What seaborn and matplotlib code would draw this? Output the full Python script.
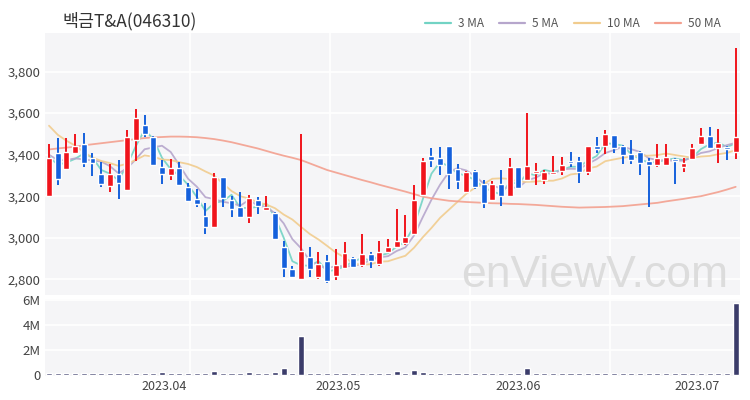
import numpy as np
import pandas as pd
import matplotlib
matplotlib.use("Agg")
import matplotlib.pyplot as plt
import seaborn as sns
from matplotlib.lines import Line2D

# ---- data ----
title = "백금T&A(046310)"

open_ = [3200, 3410, 3330, 3410, 3450, 3385, 3305, 3250, 3305, 3230,
         3470, 3545, 3485, 3340, 3300, 3335, 3245, 3185, 3105, 3050,
         3290, 3180, 3150, 3100, 3180, 3135, 3120, 2955, 2850, 2800,
         2905, 2810, 2890, 2815, 2855, 2900, 2870, 2920, 2875, 2930,
         2955, 2975, 3020, 3205, 3395, 3385, 3440, 3330, 3220, 3320,
         3260, 3180, 3260, 3200, 3340, 3280, 3310, 3280, 3305, 3320,
         3370, 3370, 3315, 3440, 3440, 3495, 3440, 3405, 3415, 3370,
         3350, 3350, 3380, 3340, 3380, 3450, 3490, 3430, 3435, 3415]
high = [3450, 3480, 3480, 3500, 3505, 3410, 3365, 3355, 3375, 3520,
        3620, 3590, 3490, 3375, 3380, 3365, 3265, 3235, 3165, 3310,
        3290, 3200, 3220, 3205, 3195, 3200, 3125, 2985, 2865, 3500,
        2955, 2930, 2915, 2945, 2980, 2905, 3020, 2930, 2985, 2995,
        3140, 3110, 3255, 3385, 3430, 3435, 3440, 3355, 3320, 3325,
        3280, 3275, 3325, 3385, 3340, 3600, 3360, 3325, 3395, 3390,
        3415, 3390, 3440, 3485, 3520, 3495, 3445, 3470, 3420, 3385,
        3450, 3450, 3385, 3385, 3450, 3530, 3535, 3525, 3440, 3915]
low = [3200, 3255, 3325, 3410, 3340, 3295, 3245, 3220, 3185, 3230,
       3370, 3485, 3345, 3260, 3280, 3250, 3170, 3150, 3020, 3050,
       3150, 3100, 3100, 3070, 3115, 3130, 2990, 2810, 2805, 2800,
       2810, 2800, 2780, 2795, 2855, 2855, 2860, 2855, 2865, 2925,
       2950, 2965, 3015, 3200, 3340, 3300, 3235, 3235, 3215, 3235,
       3145, 3175, 3155, 3195, 3235, 3275, 3255, 3260, 3305, 3300,
       3340, 3265, 3300, 3410, 3405, 3410, 3355, 3355, 3300, 3150,
       3340, 3345, 3260, 3315, 3375, 3445, 3425, 3360, 3375, 3380]
close = [3385, 3285, 3415, 3440, 3360, 3360, 3260, 3305, 3265, 3485,
         3575, 3500, 3350, 3305, 3335, 3255, 3175, 3160, 3050, 3290,
         3190, 3140, 3100, 3190, 3155, 3150, 2995, 2855, 2810, 2935,
         2850, 2875, 2790, 2870, 2925, 2860, 2920, 2890, 2930, 2955,
         2985, 3005, 3180, 3370, 3375, 3350, 3305, 3275, 3315, 3245,
         3165, 3260, 3200, 3340, 3240, 3345, 3320, 3315, 3315, 3350,
         3360, 3315, 3440, 3425, 3500, 3430, 3400, 3375, 3360, 3350,
         3385, 3390, 3370, 3360, 3430, 3490, 3430, 3455, 3425, 3485]
# volume in millions of shares
volume_m = [0.15, 0.15, 0.16, 0.15, 0.16, 0.15, 0.15, 0.16, 0.17, 0.22,
            0.22, 0.18, 0.18, 0.25, 0.17, 0.17, 0.16, 0.16, 0.18, 0.36,
            0.18, 0.16, 0.17, 0.27, 0.17, 0.16, 0.24, 0.55, 0.18, 3.10,
            0.22, 0.21, 0.21, 0.18, 0.15, 0.16, 0.15, 0.16, 0.15, 0.17,
            0.31, 0.19, 0.45, 0.27, 0.22, 0.18, 0.16, 0.15, 0.15, 0.15,
            0.15, 0.16, 0.15, 0.17, 0.16, 0.60, 0.17, 0.15, 0.15, 0.16,
            0.17, 0.15, 0.16, 0.17, 0.15, 0.15, 0.15, 0.15, 0.15, 0.20,
            0.16, 0.15, 0.15, 0.16, 0.15, 0.15, 0.15, 0.16, 0.15, 5.75]
# closes before the first visible candle (estimated so the short MAs start where they do)
prior_close = [3720, 3700, 3680, 3660, 3635, 3420, 3410, 3400, 3385]
# 50-day MA (needs history not shown)
ma50 = [3425, 3430, 3434, 3438, 3445, 3450, 3455, 3460, 3465, 3470,
        3475, 3480, 3483, 3485, 3487, 3487, 3486, 3484, 3480, 3475,
        3468, 3460, 3450, 3440, 3430, 3418, 3406, 3395, 3385, 3374,
        3358, 3342, 3326, 3314, 3302, 3290, 3278, 3267, 3255, 3244,
        3233, 3222, 3210, 3198, 3190, 3184, 3178, 3175, 3172, 3170,
        3168, 3166, 3165, 3163, 3162, 3160, 3158, 3155, 3152, 3149,
        3147, 3145, 3146, 3147, 3148, 3150, 3152, 3156, 3160, 3164,
        3168, 3175, 3181, 3187, 3194, 3200, 3210, 3220, 3232, 3245]

month_labels = ["2023.04", "2023.05", "2023.06", "2023.07"]
month_pos = [13.3, 33.3, 54.0, 74.6]
grid_pos = [16.2, 32.3, 48.4, 64.5]
price_ticks = [2800, 3000, 3200, 3400, 3600, 3800]
vol_ticks = [0, 2, 4, 6]
vol_tick_labels = ["0", "2M", "4M", "6M"]

ma_names = ["3 MA", "5 MA", "10 MA", "50 MA"]
ma_colors = ["#72d3c4", "#b6a6cc", "#f1cc8e", "#f3a08f"]

# ---- moving averages ----
n = len(close)
hist = pd.Series(prior_close + close)
df = pd.DataFrame({"idx": np.arange(n)})
df["3 MA"] = hist.rolling(3).mean().iloc[len(prior_close):].values
df["5 MA"] = hist.rolling(5).mean().iloc[len(prior_close):].values
df["10 MA"] = hist.rolling(10).mean().iloc[len(prior_close):].values
df["50 MA"] = ma50
long_df = df.melt(id_vars="idx", var_name="ma", value_name="price")

sns.set_theme(style="white")
plt.rcParams["font.family"] = ["Noto Sans CJK KR", "DejaVu Sans"]

fig = plt.figure(figsize=(7.5, 4), dpi=100)
bg = "#f5f5f7"
ax = fig.add_axes([0.06, 0.2625, 0.9267, 0.655])
ax2 = fig.add_axes([0.06, 0.06, 0.9267, 0.1925], sharex=ax)

x = np.arange(n)
o = np.array(open_)
c = np.array(close)
up = c >= o
colors = np.where(up, "#f0141c", "#1560dc")

for a in (ax, ax2):
    a.set_facecolor(bg)
    for s in a.spines.values():
        s.set_visible(False)
    for g in grid_pos:
        a.axvline(g, color="white", lw=1.2, zorder=0)

for t in price_ticks:
    ax.axhline(t, color="white", lw=1.2, zorder=0)
for t in vol_ticks[1:]:
    ax2.axhline(t, color="white", lw=1.2, zorder=0)

# moving averages (behind the candles)
sns.lineplot(data=long_df, x="idx", y="price", hue="ma", hue_order=ma_names,
             palette=ma_colors, ax=ax, legend=False, linewidth=1.3, alpha=0.9, zorder=2)

# candles
ax.vlines(x, low, high, colors=colors, lw=1.4, zorder=3)
body_h = np.maximum(np.abs(c - o), 6)
ax.bar(x, body_h, bottom=np.minimum(o, c), width=0.68, color=colors, zorder=4)

ax.set_xlim(-0.46, n - 0.5)
ax.set_ylim(2724, 3986)
ax.set_yticks(price_ticks)
ax.set_yticklabels([f"{t:,}" for t in price_ticks], fontsize=9.5, color="#444")
ax.tick_params(axis="both", length=0, pad=3)
ax.tick_params(axis="x", labelbottom=False)
ax.set_xlabel("")
ax.set_ylabel("")

ax.text(0.791, 0.03, "enViewV.com", transform=ax.transAxes, ha="center", va="baseline",
        fontsize=32, color="#dcdcdc", family="Liberation Sans", zorder=1)

# volume
ax2.bar(x, volume_m, width=0.7, color="#3b3c6a", zorder=2)
ax2.set_ylim(-0.05, 6.08)
ax2.set_yticks(vol_ticks)
ax2.set_yticklabels(vol_tick_labels, fontsize=9.5, color="#444")
ax2.set_xticks(month_pos)
ax2.set_xticklabels(month_labels, fontsize=9, color="#444")
ax2.tick_params(axis="both", length=0, pad=3)

fig.text(0.083, 0.948, title, fontsize=12.5, color="#333", va="center", ha="left")

handles = [Line2D([0], [0], color=col, lw=1.6) for col in ma_colors]
fig.legend(handles, ma_names, loc="center right", bbox_to_anchor=(0.975, 0.942), ncol=4,
           frameon=False, fontsize=8.5, handlelength=2.2, columnspacing=1.3,
           handletextpad=0.6, labelcolor="#555")

fig.savefig("out.png", dpi=100, facecolor="white")
